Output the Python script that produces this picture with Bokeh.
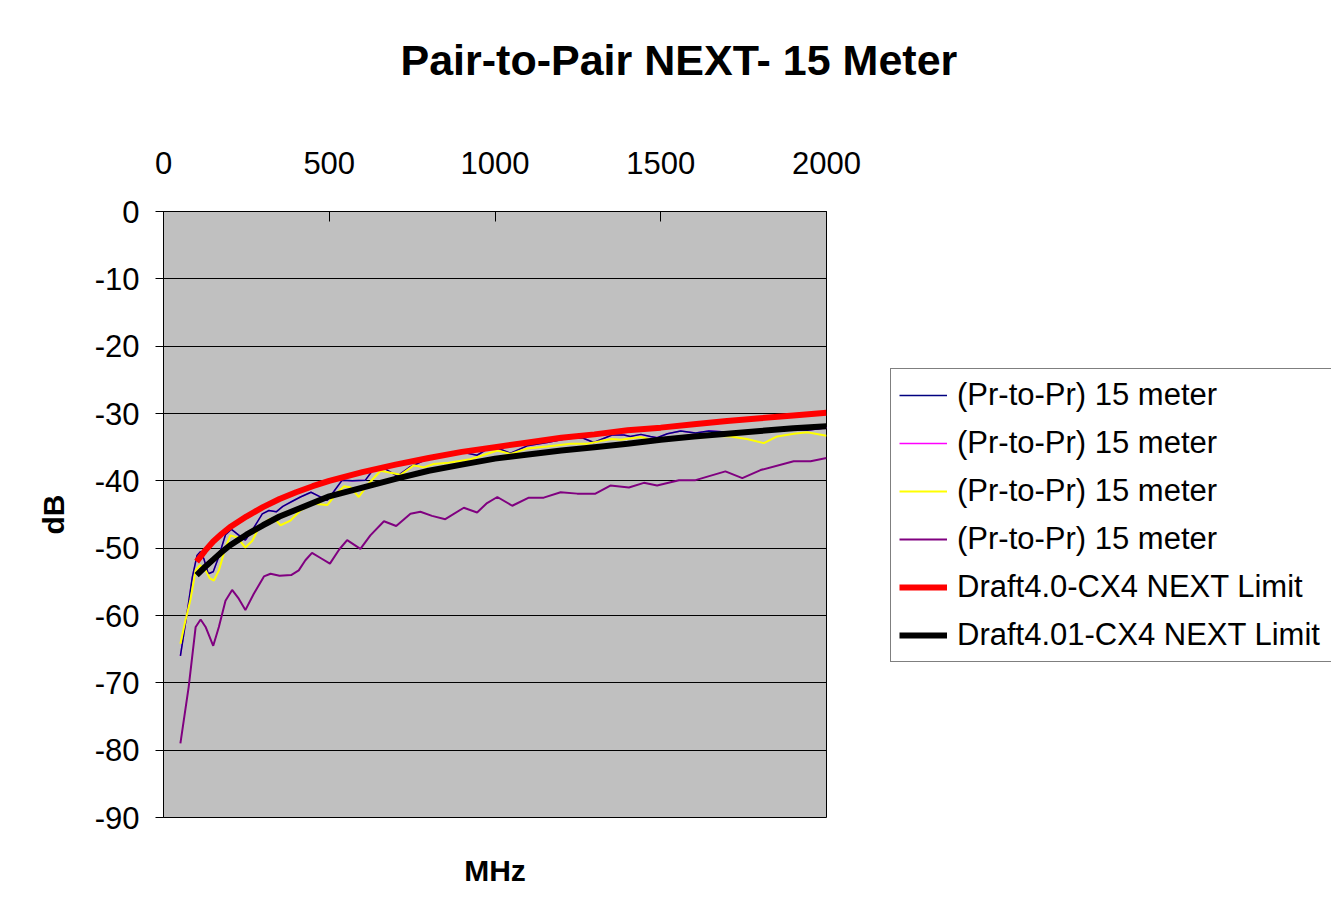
from bokeh.plotting import figure
from bokeh.models import Range1d, LinearAxis, FixedTicker, Legend, LegendItem, Title
from bokeh.embed import file_html
from bokeh.resources import INLINE

TITLE = "Pair-to-Pair NEXT- 15 Meter"
X_LABEL = "MHz"
Y_LABEL = "dB"
X_TICKS = [0, 500, 1000, 1500, 2000]
Y_TICKS = [-90, -80, -70, -60, -50, -40, -30, -20, -10, 0]
Y_TICK_LABELS = ["-90", "-80", "-70", "-60", "-50", "-40", "-30", "-20", "-10", "0"]

SERIES_NAMES = ["(Pr-to-Pr) 15 meter", "(Pr-to-Pr) 15 meter", "(Pr-to-Pr) 15 meter",
                "(Pr-to-Pr) 15 meter", "Draft4.0-CX4 NEXT Limit", "Draft4.01-CX4 NEXT Limit"]

navy_f = [51, 70, 87, 101, 112, 122, 135, 150, 165, 187, 205, 225, 247, 272, 298, 318, 340, 360,
          390, 413, 445, 470, 494, 515, 539, 569, 609, 630, 665, 705, 745, 785, 836, 906, 946, 976,
          1010, 1047, 1097, 1157, 1218, 1263, 1298, 1353, 1389, 1408, 1440, 1469, 1489, 1520, 1560,
          1605, 1645, 1710, 1760, 1801, 1851, 1891, 1942, 2000]
navy_db = [-66.0, -60.0, -54.3, -51.1, -50.5, -51.6, -53.8, -53.5, -51.5, -48.0, -47.2, -48.0,
           -48.8, -47.0, -44.9, -44.4, -44.6, -43.8, -43.0, -42.4, -41.7, -42.3, -42.9, -41.5,
           -39.9, -40.0, -39.9, -38.5, -38.1, -39.3, -37.9, -37.0, -36.4, -35.8, -36.2, -35.3,
           -35.2, -35.9, -34.8, -34.3, -33.7, -33.6, -34.3, -33.2, -33.2, -33.4, -33.1, -33.4,
           -33.6, -33.0, -32.6, -32.9, -32.6, -32.8, -32.8, -32.5, -32.4, -32.4, -32.5, -32.1]

magenta_f = list(navy_f)
magenta_db = list(navy_db)

yellow_f = [51, 65, 81, 97, 110, 127, 140, 152, 167, 187, 202, 222, 247, 268, 288, 318, 335, 353,
            383, 413, 453, 494, 520, 545, 565, 589, 619, 655, 685, 715, 755, 785, 815, 860, 926,
            970, 1007, 1047, 1097, 1157, 1228, 1278, 1318, 1353, 1379, 1439, 1489, 1530, 1570,
            1615, 1660, 1710, 1760, 1811, 1851, 1902, 1942, 2000]
yellow_db = [-64.2, -61.0, -57.7, -53.3, -52.5, -53.3, -54.5, -54.8, -53.3, -49.9, -48.1, -48.4,
             -49.9, -48.9, -46.9, -45.7, -45.6, -46.6, -45.9, -44.4, -43.4, -43.6, -42.0, -40.8,
             -41.0, -42.4, -40.4, -38.5, -38.8, -39.1, -37.7, -38.0, -37.5, -37.3, -36.8, -36.1,
             -35.5, -36.0, -35.2, -34.9, -34.5, -34.5, -34.1, -33.8, -33.9, -33.5, -34.1, -33.8,
             -33.5, -33.6, -33.3, -33.4, -33.8, -34.4, -33.4, -33.0, -32.8, -33.3]

purple_f = [51, 76, 97, 112, 127, 150, 167, 187, 207, 227, 247, 272, 303, 323, 350, 385, 408, 428,
            448, 475, 502, 530, 554, 594, 624, 665, 702, 745, 775, 810, 850, 906, 946, 976, 1007,
            1052, 1102, 1147, 1198, 1248, 1303, 1348, 1404, 1449, 1489, 1555, 1605, 1695, 1746,
            1801, 1901, 1952, 2000]
purple_db = [-79.0, -70.6, -61.7, -60.6, -61.7, -64.5, -61.7, -57.8, -56.2, -57.5, -59.2, -56.8,
             -54.2, -53.8, -54.1, -54.0, -53.3, -51.8, -50.7, -51.5, -52.3, -50.2, -48.8, -50.1,
             -48.1, -46.0, -46.7, -44.9, -44.6, -45.2, -45.7, -44.0, -44.7, -43.3, -42.4, -43.7,
             -42.5, -42.5, -41.7, -41.9, -41.9, -40.7, -41.0, -40.3, -40.7, -39.9, -39.9, -38.6,
             -39.6, -38.4, -37.1, -37.1, -36.6]

limit_f = [100, 125, 150, 175, 200, 250, 300, 350, 400, 450, 500, 600, 700, 800, 900, 1000,
           1100, 1200, 1300, 1400, 1500, 1600, 1700, 1800, 1900, 2000]
limit40_db = [-52.0, -50.4, -49.0, -47.9, -46.9, -45.3, -43.9, -42.7, -41.7, -40.8, -40.0, -38.7,
              -37.6, -36.6, -35.7, -35.0, -34.3, -33.6, -33.1, -32.5, -32.1, -31.6, -31.1, -30.7,
              -30.3, -29.9]
limit401_db = [-54.0, -52.8, -51.7, -50.6, -49.6, -48.0, -46.6, -45.3, -44.3, -43.3, -42.3, -41.0,
               -39.7, -38.5, -37.6, -36.7, -36.1, -35.5, -35.0, -34.5, -33.9, -33.4, -33.0, -32.6,
               -32.2, -31.9]

FONT = "Liberation Sans"

p = figure(frame_width=663, frame_height=606, output_backend="svg", toolbar_location=None,
           x_range=Range1d(0, 2000), y_range=Range1d(-90, 0), x_axis_location="above",
           min_border_left=163, min_border_right=497, min_border_top=211, min_border_bottom=125,
           background_fill_color="#C0C0C0", border_fill_color="white",
           stylesheets=[":host { outline: 1px solid black; outline-offset: -6px; }"])

p.title = Title(text=TITLE, text_font=FONT, text_font_size="43px", text_font_style="bold",
                align="left", offset=237, standoff=10, text_color="black")

p.outline_line_color = "black"
p.outline_line_width = 1

xa = p.xaxis[0]
xa.ticker = FixedTicker(ticks=X_TICKS)
xa.major_label_text_font = FONT
xa.major_label_text_font_size = "31px"
xa.major_label_text_color = "black"
xa.major_tick_in = 10
xa.major_tick_out = 0
xa.minor_tick_line_color = None
xa.major_label_standoff = 38
xa.axis_line_color = "black"
# empty spacer label: keeps the title high above the tick labels
xa.axis_label = " "
xa.axis_label_text_font_size = "1px"
xa.axis_label_standoff = 56

ya = p.yaxis[0]
ya.ticker = FixedTicker(ticks=Y_TICKS)
ya.major_label_overrides = {t: s for t, s in zip(Y_TICKS, Y_TICK_LABELS)}
ya.major_label_text_font = FONT
ya.major_label_text_font_size = "31px"
ya.major_label_text_color = "black"
ya.major_tick_in = 0
ya.major_tick_out = 8
ya.minor_tick_line_color = None
ya.major_label_standoff = 16
ya.axis_label = Y_LABEL
ya.axis_label_text_font = FONT
ya.axis_label_text_font_size = "30px"
ya.axis_label_text_font_style = "bold"
ya.axis_label_text_color = "black"
ya.axis_label_standoff = 22

bx = LinearAxis(ticker=FixedTicker(ticks=[]), axis_label=X_LABEL, axis_line_color=None,
                major_tick_line_color=None, minor_tick_line_color=None,
                axis_label_text_font=FONT, axis_label_text_font_size="30px",
                axis_label_text_font_style="bold", axis_label_text_color="black",
                axis_label_standoff=36)
p.add_layout(bx, "below")

p.xgrid.grid_line_color = None
p.ygrid.ticker = FixedTicker(ticks=Y_TICKS)
p.ygrid.grid_line_color = "black"
p.ygrid.grid_line_alpha = 1.0

r_mag = p.line(magenta_f, magenta_db, line_color="#FF00FF", line_width=1.5)
r_nav = p.line(navy_f, navy_db, line_color="#000080", line_width=1.5)
r_yel = p.line(yellow_f, yellow_db, line_color="#FFFF00", line_width=2)
r_pur = p.line(purple_f, purple_db, line_color="#800080", line_width=2)
r_red = p.line(limit_f, limit40_db, line_color="#FF0000", line_width=6)
r_blk = p.line(limit_f, limit401_db, line_color="black", line_width=6)

legend = Legend(items=[LegendItem(label=SERIES_NAMES[0], renderers=[r_nav]),
                       LegendItem(label=SERIES_NAMES[1], renderers=[r_mag]),
                       LegendItem(label=SERIES_NAMES[2], renderers=[r_yel]),
                       LegendItem(label=SERIES_NAMES[3], renderers=[r_pur]),
                       LegendItem(label=SERIES_NAMES[4], renderers=[r_red]),
                       LegendItem(label=SERIES_NAMES[5], renderers=[r_blk])],
                location=(64, 155), label_text_font=FONT, label_text_font_size="31px",
                label_text_color="black", glyph_width=48, glyph_height=30, label_height=30,
                label_width=400, spacing=12, padding=8, margin=0, label_standoff=10,
                border_line_color="black", border_line_width=1,
                background_fill_color="white", background_fill_alpha=1.0)
p.add_layout(legend, "right")

open("out.html", "w").write(file_html(p, INLINE))
